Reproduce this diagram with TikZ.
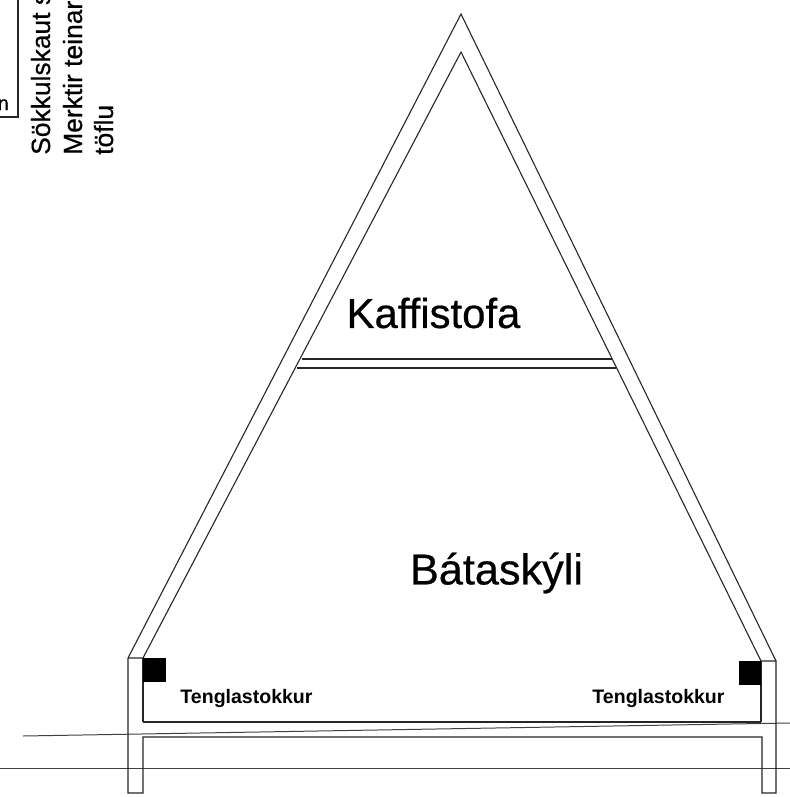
\documentclass[tikz,border=0pt]{standalone}
\usepackage{fontspec}
\setmainfont[Ligatures=NoCommon]{Liberation Sans}
\newfontfamily\heavyface[Ligatures=NoCommon,FakeBold=0.5]{Liberation Sans}
\tikzset{
 wall/.style={draw=black!85,line width=1.1pt,line join=miter},
 thin line/.style={draw=black!75,line width=1pt},
 big/.style={inner sep=0pt,font=\heavyface\fontsize{42}{44}\selectfont,text=black},
 small/.style={inner sep=0pt,font=\fontsize{19.6}{22}\selectfont\bfseries,text=black},
 side/.style={inner sep=0pt,rotate=90,anchor=base west,font=\heavyface\fontsize{26.5}{30}\selectfont,text=black},
 block/.style={fill=black,draw=none}
}
\begin{document}
\begin{tikzpicture}[x=1bp,y=-1bp]
\useasboundingbox (0,0) rectangle (790,797);
\clip (0,0) rectangle (790,797);
% long lines
\draw[thin line] (23,736) -- (790,723);
\draw[thin line] (0,768) -- (790,768);
% outer shell
\draw[wall] (143,722) -- (761,722);
\draw[wall] (128,658) -- (461,14) -- (776,661);
\draw[wall] (128,658) -- (128,793) -- (143,793) -- (143,737) -- (762,737) -- (762,793) -- (776,793) -- (776,661) -- (761,661) -- (461,52) -- (143,658) -- (128,658);
\draw[wall] (143,658) -- (143,722);
\draw[wall] (761,661) -- (761,722);
% ceiling
\draw[wall] (302,359) -- (612,359);
\draw[wall] (297,368) -- (616,368);
% blocks
\fill[block] (143,658) rectangle (166,682);
\fill[block] (739,661) rectangle (761,685);
% labels
\node[big] (kaffi) at (433.5,313) {Kaffistofa};
\node[big,font=\heavyface\fontsize{43.4}{46}\selectfont] (bata) at (496.5,573) {Bátaskýli};
\node[small] (tl) at (246.5,698) {Tenglastokkur};
\node[small] (tr) at (658.5,698) {Tenglastokkur};
% cut-off corner
\draw[wall] (18,0) -- (18,117) -- (0,117);
\node[inner sep=0pt,anchor=base east,font=\heavyface\fontsize{20}{22}\selectfont] (n) at (9,110) {n};
\node[side] (s1) at (50,155) {Sökkulskaut s};
\node[side] (s2) at (82,155) {Merktir teinar};
\node[side] (s3) at (113,155) {töflu};
\end{tikzpicture}
\end{document}
